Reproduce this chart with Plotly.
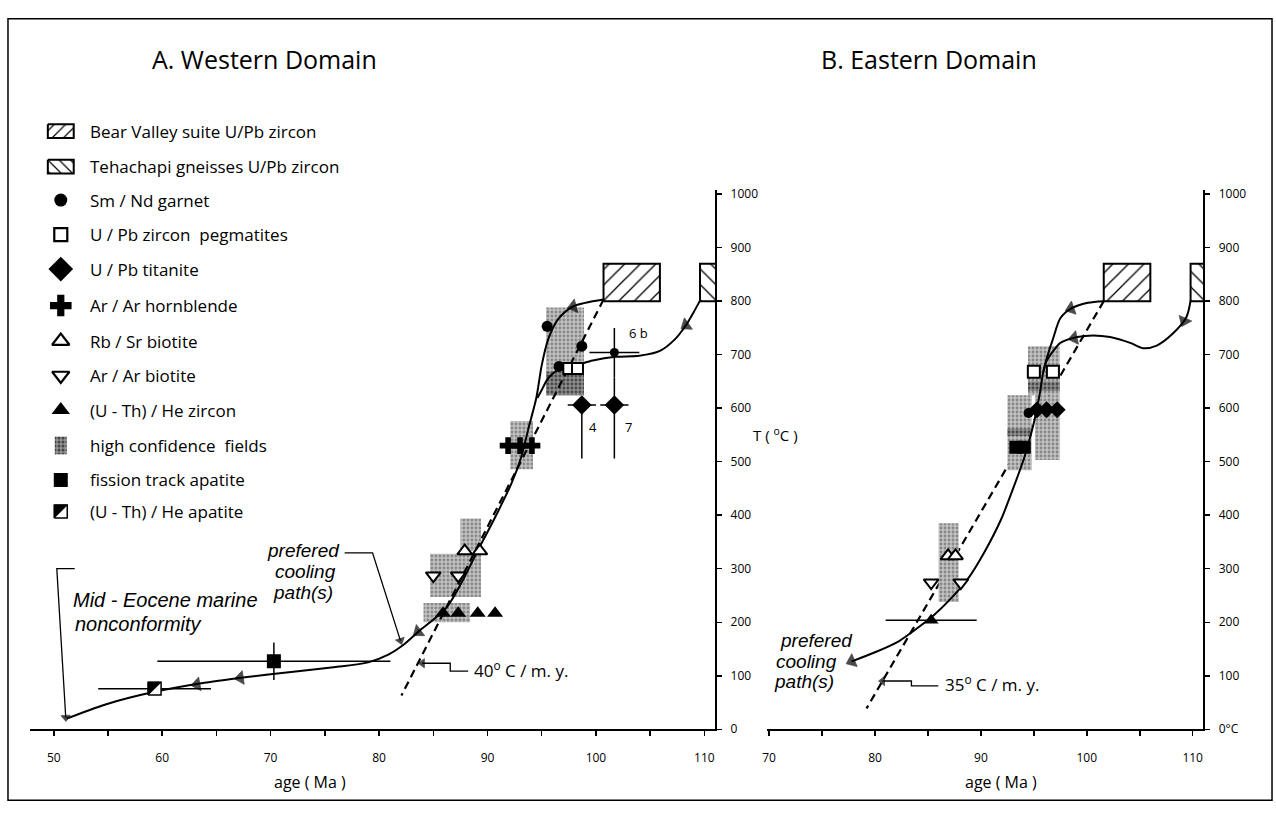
import plotly.graph_objects as go

W, H = 1276, 825

# ================= tick data =================
A_age_ticks = [50, 60, 70, 80, 90, 100, 110]
A_age_minor = [55, 65, 75, 85, 95, 105]
B_age_ticks = [70, 80, 90, 100, 110]
B_age_minor = [75, 85, 95, 105]
T_ticks = [0, 100, 200, 300, 400, 500, 600, 700, 800, 900, 1000]
A_T_labels = ["0", "100", "200", "300", "400", "500", "600", "700", "800", "900", "1000"]
B_T_labels = ["0°C", "100", "200", "300", "400", "500", "600", "700", "800", "900", "1000"]

# ================= Panel A : Western Domain =================
A_bv_age = [100.7, 105.9]          # Bear Valley suite U/Pb zircon box
A_bv_T = [800, 870]
A_teh_age = [109.6, 113.0]         # Tehachapi gneisses box (clipped by axis)
A_teh_T = [800, 870]

A_hc_age0 = [95.4, 92.1, 87.5, 84.7, 84.1]   # high confidence fields
A_hc_age1 = [98.9, 94.2, 89.4, 89.4, 88.4]
A_hc_T0 = [624, 486, 333, 247, 200]
A_hc_T1 = [788, 576, 394, 328, 236]
A_hcd_age0 = [95.4]                           # darker part of field
A_hcd_age1 = [98.9]
A_hcd_T0 = [624]
A_hcd_T1 = [668]

A_smnd_age = [95.5, 98.7, 96.6]
A_smnd_T = [753, 716, 678]
A_6b_age = [101.7]
A_6b_T = [704]
A_6b_age_err = [2.3]
A_6b_T_err = [46]
A_peg_age = [97.5, 98.3]
A_peg_T = [674, 674]
A_tit_age = [98.7, 101.7]
A_tit_T = [606, 606]
A_tit_age_err = [1.3, 1.3]
A_tit_T_err_minus = [100, 100]
A_tit_T_err_plus = [0, 52]
A_hbl_age = [91.9, 93.0, 94.1]
A_hbl_T = [530, 530, 530]
A_rbsr_age = [87.9, 89.3]
A_rbsr_T = [333, 333]
A_arbt_age = [85.0, 87.3]
A_arbt_T = [287, 287]
A_hezr_age = [85.9, 87.3, 89.1, 90.7]
A_hezr_T = [217, 217, 217, 217]
A_ft_age = [70.3]
A_ft_T = [127]
A_ft_age_err = [10.75]
A_ft_T_err = [35]
A_heap_age = [59.3]
A_heap_T = [76]
A_heap_age_err = [5.2]

A_path1_age = [100.7, 97.9, 96.5, 95.6, 95.0, 94.5, 93.8, 93.1, 92.2, 90.6, 89.0, 87.6, 86.2,
               83.6, 82.2, 80.9, 79.0, 75.8, 70.0, 63.9, 59.3, 54.7, 51.2]
A_path1_T = [803, 790, 766, 729, 680, 619, 564, 508, 459, 392, 330, 274, 227,
             182, 157, 140, 125, 116, 103, 87, 70, 46, 20]
A_path2_age = [109.6, 109.0, 108.3, 107.3, 105.9, 104.0, 101.8, 99.7, 98.3, 96.7, 95.6, 95.0, 94.6]
A_path2_T = [801, 779, 755, 729, 707, 698, 696, 689, 681, 674, 656, 634, 619]
A_dash_age = [100.7, 82.06]        # 40 C / m.y.
A_dash_T = [803, 63]
A_arrow_from_age = [100.0, 109.3, 84.6, 68.6, 64.6]
A_arrow_from_T = [801, 769, 197, 100, 89]
A_arrow_age = [97.9, 108.3, 83.6, 67.2, 63.2]
A_arrow_T = [790, 755, 182, 96, 84]

# ================= Panel B : Eastern Domain =================
B_bv_age = [101.6, 106.0]
B_bv_T = [800, 870]
B_teh_age = [109.8, 113.0]
B_teh_T = [800, 870]

B_hc_age0 = [94.45, 95.1, 92.5, 86.0]
B_hc_age1 = [97.45, 97.45, 94.8, 87.9]
B_hc_T0 = [624, 503, 484, 238]
B_hc_T1 = [716, 624, 624, 385]
B_hcd_age0 = [94.45, 92.5]
B_hcd_age1 = [97.45, 94.8]
B_hcd_T0 = [632, 548]
B_hcd_T1 = [650, 562]

B_peg_age = [95.0, 96.8]
B_peg_T = [668, 668]
B_tit_age = [95.3, 96.2, 97.2]
B_tit_T = [597, 597, 597]
B_smnd_age = [94.5]
B_smnd_T = [591]
B_ft_age = [93.3, 94.1]
B_ft_T = [527, 527]
B_rbsr_age = [86.9, 87.6]
B_rbsr_T = [324, 324]
B_arbt_age = [85.3, 88.1]
B_arbt_T = [274, 274]
B_hezr_age = [85.3]
B_hezr_T = [204]
B_hezr_age_err = [4.3]

B_path1_age = [101.6, 100.1, 98.5, 97.5, 96.8, 96.2, 95.9, 95.6, 95.2, 94.8, 94.05, 93.1, 91.9,
               90.3, 88.8, 87.2, 85.6, 84.2, 82.2, 80.0, 77.8]
B_path1_T = [800, 797, 786, 768, 729, 692, 669, 632, 590, 557, 505, 453, 392,
             330, 282, 245, 214, 192, 164, 144, 127]
B_path2_age = [109.8, 109.4, 108.1, 106.6, 105.3, 104.1, 102.2, 100.6, 99.1, 97.5, 96.8, 96.2, 95.9]
B_path2_T = [801, 770, 739, 717, 712, 722, 733, 736, 733, 722, 706, 688, 669]
B_dash_age = [101.6, 79.2]         # 35 C / m.y.
B_dash_T = [800, 39]
B_arrow_from_age = [100.1, 109.7, 99.8, 79.0]
B_arrow_from_T = [797, 785, 735, 137]
B_arrow_age = [98.5, 109.2, 98.8, 77.8]
B_arrow_T = [786, 763, 731, 127]

# ================= legend =================
legend_labels = [
    "Bear Valley suite U/Pb zircon",
    "Tehachapi gneisses U/Pb zircon",
    "Sm / Nd garnet",
    "U / Pb zircon  pegmatites",
    "U / Pb titanite",
    "Ar / Ar hornblende",
    "Rb / Sr biotite",
    "Ar / Ar biotite",
    "(U - Th) / He zircon",
    "high confidence  fields",
    "fission track apatite",
    "(U - Th) / He apatite",
]

# ================= geometry (pixels) =================
A_PX = (25, 713)
B_PX = (765, 1203)
Y_BOT, Y_TOP = 736, 188.6
A_RANGE = [47.8, 111.0]
B_RANGE = [69.8, 111.0]
T_RANGE = [0, 1008]
KX_A = (A_PX[1] - A_PX[0]) / (A_RANGE[1] - A_RANGE[0])
KY = (Y_BOT - Y_TOP) / (T_RANGE[1] - T_RANGE[0])
LEG_X, LEG_TXT = 56, 83
LEG_ROWS = [129, 165, 199, 234, 269, 306, 342, 377, 412, 448, 483, 515]

SANS = "Open Sans"
ITAL = "Liberation Sans"

HC_PATTERN = dict(shape=".", fgcolor="#858585", bgcolor="#c6c6c6", size=4, solidity=0.45, fillmode="replace")
HCD_PATTERN = dict(shape=".", fgcolor="#444444", bgcolor="#929292", size=4, solidity=0.45, fillmode="replace")

traces = []


def rect(xa, ya, x0, x1, y0, y1, pattern=None, line_w=0, fillcolor="white"):
    kw = dict(fillcolor=fillcolor)
    if pattern is not None:
        kw["fillpattern"] = pattern
    return go.Scatter(x=[x0, x1, x1, x0, x0], y=[y0, y0, y1, y1, y0], xaxis=xa, yaxis=ya,
                      mode="lines", fill="toself", line=dict(color="black", width=line_w),
                      showlegend=False, hoverinfo="skip", **kw)


def hatch(xa, ya, ages, temps, shape):
    return rect(xa, ya, ages[0], ages[1], temps[0], temps[1],
                pattern=dict(shape=shape, fgcolor="black", bgcolor="white", size=11, solidity=0.12,
                             fillmode="replace"), line_w=2)


def pts(xa, ya, x, y, symbol, size, color="black", lw=0, **kw):
    return go.Scatter(x=x, y=y, xaxis=xa, yaxis=ya, mode="markers",
                      marker=dict(symbol=symbol, size=size, color=color, line=dict(color="black", width=lw)),
                      showlegend=False, hoverinfo="skip", **kw)


def curve(xa, ya, x, y, dash="solid", width=2):
    return go.Scatter(x=x, y=y, xaxis=xa, yaxis=ya, mode="lines",
                      line=dict(color="black", width=width, shape="spline" if dash == "solid" else "linear",
                                smoothing=0.8, dash=dash),
                      showlegend=False, hoverinfo="skip")


def arrows(xa, ya, fx, fy, tx, ty, size=12):
    out = []
    for a0, t0, a1, t1 in zip(fx, fy, tx, ty):
        out.append(go.Scatter(x=[a0, a1], y=[t0, t1], xaxis=xa, yaxis=ya, mode="markers",
                              marker=dict(symbol="triangle-up", size=[0, size], color="black",
                                          angleref="previous", line=dict(width=0.8, color="black")),
                              showlegend=False, hoverinfo="skip"))
    return out


def half_square(xa, ya, cx, cy, hx, hy):
    sq = go.Scatter(x=[cx - hx, cx + hx, cx + hx, cx - hx, cx - hx],
                    y=[cy - hy, cy - hy, cy + hy, cy + hy, cy - hy], xaxis=xa, yaxis=ya,
                    mode="lines", fill="toself", fillcolor="white", line=dict(color="black", width=1.5),
                    showlegend=False, hoverinfo="skip")
    tri = go.Scatter(x=[cx - hx, cx + hx, cx - hx, cx - hx], y=[cy + hy, cy + hy, cy - hy, cy + hy],
                     xaxis=xa, yaxis=ya, mode="lines", fill="toself", fillcolor="black",
                     line=dict(color="black", width=1), showlegend=False, hoverinfo="skip")
    return [sq, tri]


ERR = dict(type="data", color="black", thickness=1.5, width=0, visible=True)

# ---------------- Panel A ----------------
for a0, a1, t0, t1 in zip(A_hc_age0, A_hc_age1, A_hc_T0, A_hc_T1):
    traces.append(rect("x", "y", a0, a1, t0, t1, pattern=HC_PATTERN, fillcolor="#c6c6c6"))
for a0, a1, t0, t1 in zip(A_hcd_age0, A_hcd_age1, A_hcd_T0, A_hcd_T1):
    traces.append(rect("x", "y", a0, a1, t0, t1, pattern=HCD_PATTERN, fillcolor="#929292"))
traces.append(hatch("x", "y", A_bv_age, A_bv_T, "/"))
traces.append(hatch("x", "y", A_teh_age, A_teh_T, "\\"))
traces.append(curve("x", "y", A_dash_age, A_dash_T, dash="8px,5px", width=2.2))
traces.append(curve("x", "y", A_path1_age, A_path1_T))
traces.append(curve("x", "y", A_path2_age, A_path2_T))
traces += arrows("x", "y", A_arrow_from_age, A_arrow_from_T, A_arrow_age, A_arrow_T)

traces.append(pts("x", "y", A_6b_age, A_6b_T, "circle", 9,
                  error_x=dict(ERR, array=A_6b_age_err), error_y=dict(ERR, array=A_6b_T_err)))
traces.append(pts("x", "y", A_tit_age, A_tit_T, "diamond", 15,
                  error_x=dict(ERR, array=A_tit_age_err),
                  error_y=dict(ERR, symmetric=False, array=A_tit_T_err_plus, arrayminus=A_tit_T_err_minus)))
traces.append(pts("x", "y", A_smnd_age, A_smnd_T, "circle", 11))
traces.append(pts("x", "y", A_peg_age, A_peg_T, "square", 11, color="white", lw=2))
traces.append(pts("x", "y", A_hbl_age, A_hbl_T, "cross", 14))
traces.append(pts("x", "y", A_rbsr_age, A_rbsr_T, "triangle-up", 13, color="white", lw=2))
traces.append(pts("x", "y", A_arbt_age, A_arbt_T, "triangle-down", 13, color="white", lw=2))
traces.append(pts("x", "y", A_hezr_age, A_hezr_T, "triangle-up", 14))
traces.append(pts("x", "y", A_ft_age, A_ft_T, "square", 14,
                  error_x=dict(ERR, array=A_ft_age_err), error_y=dict(ERR, array=A_ft_T_err)))
traces.append(go.Scatter(x=A_heap_age, y=A_heap_T, xaxis="x", yaxis="y", mode="markers",
                         marker=dict(size=1, color="rgba(0,0,0,0)"),
                         error_x=dict(ERR, array=A_heap_age_err), showlegend=False, hoverinfo="skip"))
for a, t in zip(A_heap_age, A_heap_T):
    traces += half_square("x", "y", a, t, 6.5 / KX_A, 6.5 / KY)

# ---------------- Panel B ----------------
traces.append(curve("x2", "y2", B_dash_age, B_dash_T, dash="8px,5px", width=2.2))
for a0, a1, t0, t1 in zip(B_hc_age0, B_hc_age1, B_hc_T0, B_hc_T1):
    traces.append(rect("x2", "y2", a0, a1, t0, t1, pattern=HC_PATTERN, fillcolor="#c6c6c6"))
for a0, a1, t0, t1 in zip(B_hcd_age0, B_hcd_age1, B_hcd_T0, B_hcd_T1):
    traces.append(rect("x2", "y2", a0, a1, t0, t1, pattern=HCD_PATTERN, fillcolor="#929292"))
traces.append(hatch("x2", "y2", B_bv_age, B_bv_T, "/"))
traces.append(hatch("x2", "y2", B_teh_age, B_teh_T, "\\"))
traces.append(curve("x2", "y2", B_path1_age, B_path1_T))
traces.append(curve("x2", "y2", B_path2_age, B_path2_T))
traces += arrows("x2", "y2", B_arrow_from_age, B_arrow_from_T, B_arrow_age, B_arrow_T)
traces.append(pts("x2", "y2", B_peg_age, B_peg_T, "square", 12, color="white", lw=2))
traces.append(pts("x2", "y2", B_tit_age, B_tit_T, "diamond", 13))
traces.append(pts("x2", "y2", B_smnd_age, B_smnd_T, "circle", 10))
traces.append(pts("x2", "y2", B_ft_age, B_ft_T, "square", 13))
traces.append(pts("x2", "y2", B_rbsr_age, B_rbsr_T, "triangle-up", 13, color="white", lw=2))
traces.append(pts("x2", "y2", B_arbt_age, B_arbt_T, "triangle-down", 13, color="white", lw=2))
traces.append(pts("x2", "y2", B_hezr_age, B_hezr_T, "triangle-up", 13,
                  error_x=dict(ERR, array=B_hezr_age_err)))

# ---------------- legend symbols & leader lines (page-pixel axis x3/y3) ----------------
r = LEG_ROWS
traces.append(rect("x3", "y3", LEG_X - 13, LEG_X + 13, r[0] - 7, r[0] + 7,
                   pattern=dict(shape="/", fgcolor="black", bgcolor="white", size=8, solidity=0.15,
                                fillmode="replace"), line_w=2))
traces.append(rect("x3", "y3", LEG_X - 13, LEG_X + 13, r[1] - 7, r[1] + 7,
                   pattern=dict(shape="\\", fgcolor="black", bgcolor="white", size=8, solidity=0.15,
                                fillmode="replace"), line_w=2))
traces.append(pts("x3", "y3", [LEG_X], [r[2]], "circle", 13))
traces.append(pts("x3", "y3", [LEG_X], [r[3]], "square", 13, color="white", lw=2.2))
traces.append(pts("x3", "y3", [LEG_X], [r[4]], "diamond", 19))
traces.append(pts("x3", "y3", [LEG_X], [r[5]], "cross", 18))
traces.append(pts("x3", "y3", [LEG_X], [r[6]], "triangle-up", 15, color="white", lw=2.2))
traces.append(pts("x3", "y3", [LEG_X], [r[7]], "triangle-down", 15, color="white", lw=2.2))
traces.append(pts("x3", "y3", [LEG_X], [r[8]], "triangle-up", 16))
traces.append(rect("x3", "y3", LEG_X - 6, LEG_X + 6, r[9] - 9, r[9] + 9, pattern=HCD_PATTERN, fillcolor="#929292"))
traces.append(pts("x3", "y3", [LEG_X], [r[10]], "square", 14))
traces += half_square("x3", "y3", LEG_X, r[11], 6.5, -6.5)

# leader lines (page pixels); the last point of each carries an arrowhead
leaders = [
    [(70, 573), (52, 573), (61, 724)],                 # Mid-Eocene nonconformity
    [(341, 557), (369, 557), (397, 646)],              # prefered cooling path(s)
    [(465, 677), (447, 677), (447, 669), (419, 669)],  # 40 C / m.y.
    [(937, 692), (910, 692), (910, 687), (881, 687)],  # 35 C / m.y.
]
for pts_list in leaders:
    xs = [p[0] for p in pts_list]
    ys = [p[1] for p in pts_list]
    traces.append(go.Scatter(x=xs, y=ys, xaxis="x3", yaxis="y3", mode="lines",
                             line=dict(color="black", width=1.3), showlegend=False, hoverinfo="skip"))
    traces += arrows("x3", "y3", [xs[-2]], [ys[-2]], [xs[-1]], [ys[-1]], size=8)

fig = go.Figure(data=traces)


def px(x, y):
    return x / W, 1 - y / H


def text(x, y, s, size=16, family=SANS, xanchor="left", italic=False, align="left"):
    fx, fy = px(x, y)
    return dict(x=fx, y=fy, xref="paper", yref="paper", text=s, showarrow=False, xanchor=xanchor,
                yanchor="middle", align=align,
                font=dict(family=family, size=size, color="black", style="italic" if italic else "normal"))


annotations = [
    text(146, 56, "A. Western Domain", size=25),
    text(817, 56, "B. Eastern Domain", size=25),
    text(749, 437, "T ( <sup>o</sup>C )", size=15),
    text(306, 789, "age ( Ma )", size=16, xanchor="center"),
    text(1000, 789, "age ( Ma )", size=16, xanchor="center"),
    text(66, 605, "Mid - Eocene marine", size=20, family=ITAL, italic=True),
    text(68, 629, "nonconformity", size=20, family=ITAL, italic=True),
    text(338, 555, "prefered", size=19, family=ITAL, italic=True, xanchor="right"),
    text(334, 576, "cooling", size=19, family=ITAL, italic=True, xanchor="right"),
    text(331, 597, "path(s)", size=19, family=ITAL, italic=True, xanchor="right"),
    text(776, 646, "prefered", size=19, family=ITAL, italic=True),
    text(772, 667, "cooling", size=19, family=ITAL, italic=True),
    text(770, 688, "path(s)", size=19, family=ITAL, italic=True),
    text(469, 675, "40<sup>o</sup> C / m. y.", size=17),
    text(942, 690, "35<sup>o</sup> C / m. y.", size=17),
    text(624, 334, "6 b", size=13),
    text(584, 429, "4", size=13),
    text(620, 429, "7", size=13),
]
for lab, row in zip(legend_labels, LEG_ROWS):
    annotations.append(text(LEG_TXT, row, lab, size=17))

shapes = [
    dict(type="rect", xref="paper", yref="paper", x0=3 / W, x1=1272 / W, y0=1 - 808 / H, y1=1 - 15 / H,
         line=dict(color="black", width=1.5)),
]

axis_common = dict(showgrid=False, zeroline=False, showline=True, linecolor="black", linewidth=2,
                   ticks="outside", ticklen=5, tickwidth=1.5, tickcolor="black", fixedrange=True,
                   tickfont=dict(family=SANS, size=12, color="black"), tickmode="array")
minor_common = dict(ticks="outside", ticklen=5, tickwidth=1.5, tickcolor="black", showgrid=False)

fig.update_layout(
    width=W, height=H, margin=dict(l=0, r=0, t=0, b=0),
    paper_bgcolor="white", plot_bgcolor="rgba(0,0,0,0)", showlegend=False,
    xaxis=dict(axis_common, domain=[A_PX[0] / W, A_PX[1] / W], range=A_RANGE, anchor="y",
               tickvals=A_age_ticks, ticktext=[str(v) for v in A_age_ticks], ticklabelstandoff=11,
               minor=dict(minor_common, tickmode="array", tickvals=A_age_minor)),
    yaxis=dict(axis_common, domain=[1 - Y_BOT / H, 1 - Y_TOP / H], range=T_RANGE, anchor="x", side="right",
               tickvals=T_ticks, ticktext=A_T_labels, ticklabelstandoff=6),
    xaxis2=dict(axis_common, domain=[B_PX[0] / W, B_PX[1] / W], range=B_RANGE, anchor="y2",
                tickvals=B_age_ticks, ticktext=[str(v) for v in B_age_ticks], ticklabelstandoff=11,
                minor=dict(minor_common, tickmode="array", tickvals=B_age_minor)),
    yaxis2=dict(axis_common, domain=[1 - Y_BOT / H, 1 - Y_TOP / H], range=T_RANGE, anchor="x2", side="right",
                tickvals=T_ticks, ticktext=B_T_labels, ticklabelstandoff=6),
    xaxis3=dict(domain=[0, 1], range=[0, W], visible=False, anchor="y3", fixedrange=True),
    yaxis3=dict(domain=[0, 1], range=[H, 0], visible=False, anchor="x3", fixedrange=True),
    annotations=annotations,
    shapes=shapes,
)

fig.write_html("out.html", config={"displayModeBar": False, "staticPlot": True},
               post_script="document.body.style.margin='0px';")
